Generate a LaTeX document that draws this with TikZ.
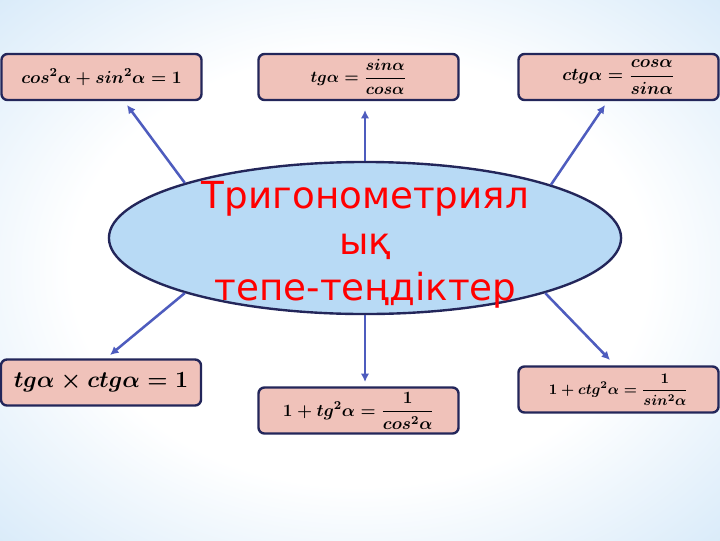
\documentclass[tikz,border=0pt]{standalone}
\usepackage{fix-cm}
\usepackage{amsmath}
\usepackage{fontspec}
\newfontfamily\kzfont{DejaVu Sans}
\usepackage{tikz}
\usetikzlibrary{arrows.meta,shapes.geometric}

\definecolor{bgblue}{RGB}{178,214,243}
\definecolor{boxfill}{RGB}{240,194,186}
\definecolor{boxline}{RGB}{35,38,90}
\definecolor{ellfill}{RGB}{184,218,245}
\definecolor{linkblue}{RGB}{78,92,190}
\pgfdeclareradialshading{bgglow}{\pgfpoint{0bp}{0bp}}{color(0bp)=(white); color(20bp)=(white); color(52bp)=(bgblue); color(75bp)=(bgblue)}

\tikzset{
	formulabox/.style={draw=boxline, fill=boxfill, line width=1.7pt, rounded corners=0.15cm, minimum width=5cm, minimum height=1.15cm, inner sep=0pt, text=black},
	linkarrow/.style={linkblue, line width=1.8pt, -{Latex[length=6pt,width=6pt]}}
}

\begin{document}
\boldmath
\begin{tikzpicture}[x=0.025cm, y=-0.025cm]
		\useasboundingbox (0, 0) rectangle (720, 540);
		\shade[shading=bgglow] (0, 0) rectangle (720, 540);
		\node[formulabox, font=\fontsize{12.4}{15}\selectfont] (F1) at (101.5, 77) {$cos^2\alpha+sin^2\alpha=1$};
		\node[formulabox, font=\fontsize{11.5}{14}\selectfont] (F2) at (358.5, 77) {$tg\alpha=\dfrac{sin\alpha}{cos\alpha}$};
		\node[formulabox, font=\fontsize{12.5}{15}\selectfont] (F3) at (618.5, 77) {$ctg\alpha=\dfrac{cos\alpha}{sin\alpha}$};
		\node[formulabox, font=\fontsize{16.5}{19}\selectfont] (F4) at (101, 382.5) {$tg\alpha\times ctg\alpha=1$};
		\node[formulabox, font=\fontsize{12.3}{14}\selectfont] (F5) at (358.5, 410.5) {$1+tg^2\alpha=\dfrac{1}{cos^2\alpha}$};
		\node[formulabox, font=\fontsize{10.5}{13}\selectfont] (F6) at (618.5, 389.5) {$1+ctg^2\alpha=\dfrac{1}{sin^2\alpha}$};
		\node[draw=boxline, fill=ellfill, line width=1.7pt, ellipse, minimum width=12.8cm, minimum height=3.8cm, inner sep=0pt] (E) at (365, 238) {};
		\node[text=red, align=center, font=\kzfont\fontsize{26.5}{32.6}\selectfont] (T) at (365.5, 245) {Тригонометриял\\ық\\тепе-теңдіктер};
		\coordinate (t1) at (127, 105);
		\coordinate (t2) at (365, 110);
		\coordinate (t3) at (605, 105);
		\coordinate (t4) at (110, 355);
		\coordinate (t5) at (365, 382);
		\coordinate (t6) at (610, 360);
		\draw[linkarrow] (E.163)--(t1);
		\draw[linkarrow] (E.90)--(t2);
		\draw[linkarrow] (E.16)--(t3);
		\draw[linkarrow] (E.197)--(t4);
		\draw[linkarrow] (E.270)--(t5);
		\draw[linkarrow] (E.343)--(t6);
	\end{tikzpicture}
\end{document}
